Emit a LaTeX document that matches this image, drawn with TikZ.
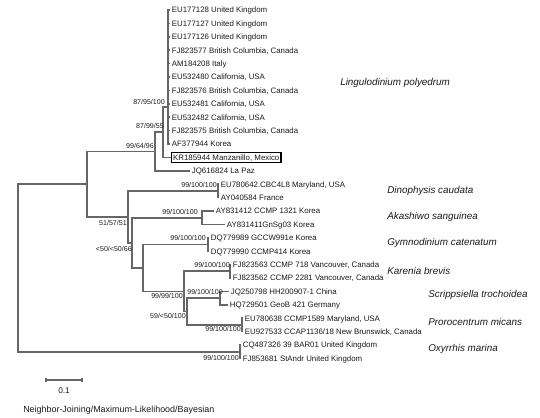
\documentclass[tikz,border=0pt]{standalone}
\usepackage{fontspec}
\setmainfont{Liberation Sans}
\begin{document}
\begin{tikzpicture}[x=0.75pt,y=-0.75pt,
  br/.style={draw=black!60, line width=1.25pt},
  leaf/.style={anchor=west, inner xsep=1.2pt, inner ysep=0pt, text height=4.2pt, text depth=0pt, font=\fontsize{5.9}{6}\selectfont, text=black!90},
  boot/.style={anchor=east, inner sep=0pt, font=\fontsize{5.3}{6}\selectfont, text=black!90},
  sp/.style={anchor=west, inner sep=0pt, font=\fontsize{7.4}{9}\selectfont\itshape, text=black!90},
  hl/.style={leaf, draw=black, line width=0.8pt, inner ysep=1.6pt, inner xsep=1.2pt}
]
\useasboundingbox (0,0) rectangle (540,418);
% internal nodes
\coordinate (R) at (18,268);
\coordinate (N1) at (87,184.2);
\coordinate (A) at (155,151.5);
\coordinate (B) at (163,132.2);
\coordinate (C) at (168,107);
\coordinate (D) at (128,216.9);
\coordinate (E) at (132,242.8);
\coordinate (Din) at (218,190.9);
\coordinate (Ak) at (202,217.7);
\coordinate (F) at (143,268);
\coordinate (Gy) at (208,244.5);
\coordinate (G) at (184,291.4);
\coordinate (H) at (230,271.3);
\coordinate (I) at (187,311.5);
\coordinate (S) at (220,298.1);
\coordinate (P) at (242,324.9);
\coordinate (Ox) at (240,351.7);
% leaves
\node[leaf] (l0) at (170,10) {EU177128 United Kingdom};
\node[leaf] (l1) at (170,23.4) {EU177127 United Kingdom};
\node[leaf] (l2) at (170,36.8) {EU177126 United Kingdom};
\node[leaf] (l3) at (170,50.2) {FJ823577 British Columbia, Canada};
\node[leaf] (l4) at (170,63.6) {AM184208 Italy};
\node[leaf] (l5) at (170,77) {EU532480 California, USA};
\node[leaf] (l6) at (170,90.4) {FJ823576 British Columbia, Canada};
\node[leaf] (l7) at (170,103.8) {EU532481 California, USA};
\node[leaf] (l8) at (170,117.2) {EU532482 California, USA};
\node[leaf] (l9) at (170,130.6) {FJ823575 British Columbia, Canada};
\node[leaf] (l10) at (170,144) {AF377944 Korea};
\node[hl] (l11) at (171,157.4) {KR185944 Manzanillo, Mexico};
\node[leaf] (l12) at (190,170.8) {JQ616824 La Paz};
\node[leaf] (l13) at (219,184.2) {EU780642.CBC4L8 Maryland, USA};
\node[leaf] (l14) at (219,197.6) {AY040584 France};
\node[leaf] (l15) at (214,211) {AY831412 CCMP 1321 Korea};
\node[leaf] (l16) at (225,224.4) {AY831411GnSg03 Korea};
\node[leaf] (l17) at (209,237.8) {DQ779989 GCCW991e Korea};
\node[leaf] (l18) at (209,251.2) {DQ779990 CCMP414 Korea};
\node[leaf] (l19) at (231,264.6) {FJ823563 CCMP 718 Vancouver, Canada};
\node[leaf] (l20) at (231,278) {FJ823562 CCMP 2281 Vancouver, Canada};
\node[leaf] (l21) at (229,291.4) {JQ250798 HH200907-1 China};
\node[leaf] (l22) at (228,304.8) {HQ729501 GeoB 421 Germany};
\node[leaf] (l23) at (243,318.2) {EU780638 CCMP1589 Maryland, USA};
\node[leaf] (l24) at (243,331.6) {EU927533 CCAP1136/18 New Brunswick, Canada};
\node[leaf] (l25) at (241,345) {CQ487326 39 BAR01 United Kingdom};
\node[leaf] (l26) at (241,358.4) {FJ853681 StAndr United Kingdom};
% branches
\draw[br] (R) |- (N1);
\draw[br] (R) |- (Ox);
\draw[br] (N1) |- (A);
\draw[br] (N1) |- (D);
\draw[br] (A) |- (B);
\draw[br] (A) |- (l12.west);
\draw[br] (B) |- (C);
\draw[br] (B) |- (l11.west);
\foreach \i in {0,...,10} {\draw[br] (C) |- (l\i.west);}
\draw[br] (D) |- (Din);
\draw[br] (D) |- (E);
\draw[br] (Din) |- (l13.west);
\draw[br] (Din) |- (l14.west);
\draw[br] (E) |- (Ak);
\draw[br] (E) |- (F);
\draw[br] (Ak) |- (l15.west);
\draw[br] (Ak) |- (l16.west);
\draw[br] (F) |- (Gy);
\draw[br] (F) |- (G);
\draw[br] (Gy) |- (l17.west);
\draw[br] (Gy) |- (l18.west);
\draw[br] (G) |- (H);
\draw[br] (G) |- (I);
\draw[br] (H) |- (l19.west);
\draw[br] (H) |- (l20.west);
\draw[br] (I) |- (S);
\draw[br] (I) |- (P);
\draw[br] (S) |- (l21.west);
\draw[br] (S) |- (l22.west);
\draw[br] (P) |- (l23.west);
\draw[br] (P) |- (l24.west);
\draw[br] (Ox) |- (l25.west);
\draw[br] (Ox) |- (l26.west);
% support values
\node[boot] (bA) at (154,146) {99/64/96};
\node[boot] (bD) at (127,223) {51/57/51};
\node[boot] (bB) at (164,126) {87/99/55};
\node[boot] (bC) at (165,102) {87/95/100};
\node[boot] (bDin) at (217,185) {99/100/100};
\node[boot] (bE) at (132,249) {<50/<50/66};
\node[boot] (bAk) at (198,212) {99/100/100};
\node[boot] (bGy) at (206,238) {99/100/100};
\node[boot] (bG) at (183,296) {99/99/100};
\node[boot] (bH) at (230,265) {99/100/100};
\node[boot] (bS) at (223,292) {99/100/100};
\node[boot] (bI) at (186,316) {59/<50/100};
\node[boot] (bP) at (241,329) {99/100/100};
\node[boot] (bOx) at (239,358) {99/100/100};
% species
\node[sp] (s1) at (340,83) {Lingulodinium polyedrum};
\node[sp] (s2) at (387,191) {Dinophysis caudata};
\node[sp] (s3) at (387,217) {Akashiwo sanguinea};
\node[sp] (s4) at (387,243) {Gymnodinium catenatum};
\node[sp] (s5) at (387,271) {Karenia brevis};
\node[sp] (s6) at (428,295) {Scrippsiella trochoidea};
\node[sp] (s7) at (428,322) {Prorocentrum micans};
\node[sp] (s8) at (428,349) {Oxyrrhis marina};
% scale bar
\coordinate (sb1) at (46,380);
\coordinate (sb2) at (82,380);
\draw[br, line width=1pt] (sb1) -- (sb2);
\draw[br, line width=1pt] ([yshift=1.6pt]sb1) -- ([yshift=-1.6pt]sb1);
\draw[br, line width=1pt] ([yshift=1.6pt]sb2) -- ([yshift=-1.6pt]sb2);
\node[inner sep=0pt, font=\fontsize{6.2}{7}\selectfont, text=black!90] (sbl) at (64,391) {0.1};
\node[anchor=west, inner sep=0pt, font=\fontsize{6.7}{8}\selectfont, text=black!90] (cap) at (23,410) {Neighbor-Joining/Maximum-Likelihood/Bayesian};
\end{tikzpicture}
\end{document}
